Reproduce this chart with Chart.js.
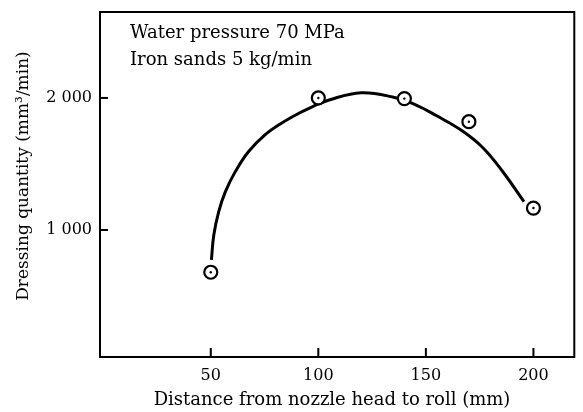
<!DOCTYPE html>
<html>
<head>
<meta charset="utf-8">
<script src="https://cdn.jsdelivr.net/npm/chart.js@4.4.0/dist/chart.umd.min.js"></script>
<style>
  html, body { margin: 0; padding: 0; background: #fff; overflow: hidden; }
  canvas { display: block; }
</style>
</head>
<body>
<canvas id="dressingChart" width="583" height="412"></canvas>
<script>
// ----------------------------------------------------------
// Datos
// ----------------------------------------------------------
const distances = [50, 100, 140, 170, 200];
const dressing = [680, 2000, 1995, 1820, 1166];

// Curva ajustada (puntos leídos a lo largo del trazo)
const curveX = [50.3, 51.4, 53.7, 56.8, 61.4, 67.5, 75.2, 82.8, 90.5, 97.4, 105, 120, 135, 145, 155, 167, 176.4, 185.6, 195.6];
const curveY = [773, 962, 1139, 1290, 1442, 1593, 1720, 1808, 1880, 1935, 1985, 2040, 2005, 1950, 1865, 1750, 1625, 1445, 1214];

const xTicks = [50, 100, 150, 200];
const yTicks = [1000, 2000];
const yTickLabels = ["1 000", "2 000"];

const noteLines = ["Water pressure 70 MPa", "Iron sands 5 kg/min"];
const xTitle = "Distance from nozzle head to roll (mm)";
const yTitle = "Dressing quantity (mm³/min)";

const FONT = "'DejaVu Serif', serif";

// ----------------------------------------------------------
// Plugin: marco, marcas hacia dentro, títulos y texto
// ----------------------------------------------------------
const framePlugin = {
    id: "frame",
    afterDraw(chart) {
        const ctx = chart.ctx;
        const area = chart.chartArea;
        const xs = chart.scales.x;
        const ys = chart.scales.y;

        ctx.save();
        ctx.strokeStyle = "#000";
        ctx.lineWidth = 2;
        ctx.strokeRect(area.left, area.top, area.right - area.left, area.bottom - area.top);

        // Marcas de los ejes (hacia dentro)
        xTicks.forEach(v => {
            const px = xs.getPixelForValue(v);
            ctx.beginPath();
            ctx.moveTo(px, area.bottom);
            ctx.lineTo(px, area.bottom - 9);
            ctx.stroke();
        });
        yTicks.forEach(v => {
            const py = ys.getPixelForValue(v);
            ctx.beginPath();
            ctx.moveTo(area.left, py);
            ctx.lineTo(area.left + 8, py);
            ctx.stroke();
        });

        ctx.fillStyle = "#000";
        ctx.textBaseline = "middle";

        // Texto de condiciones
        ctx.font = "18px " + FONT;
        ctx.textAlign = "left";
        noteLines.forEach((line, i) => {
            ctx.fillText(line, area.left + 30, area.top + 21 + i * 27);
        });

        // Título del eje X
        ctx.textAlign = "center";
        ctx.fillText(xTitle, 332, 400);

        // Título del eje Y (girado)
        ctx.save();
        ctx.translate(24, 176);
        ctx.rotate(-Math.PI / 2);
        ctx.font = "17px " + FONT;
        ctx.fillText(yTitle, 0, 0);
        ctx.restore();

        ctx.restore();
    }
};

// ----------------------------------------------------------
// Creación del gráfico
// ----------------------------------------------------------
const ctx = document.getElementById("dressingChart").getContext("2d");

new Chart(ctx, {
    type: "scatter",
    data: {
        datasets: [
            {
                label: "Measured",
                data: distances.map((d, i) => ({ x: d, y: dressing[i] })),
                showLine: false,
                pointStyle: "circle",
                pointRadius: 6.5,
                pointBorderWidth: 2.2,
                pointBorderColor: "#000",
                pointBackgroundColor: "#fff",
                order: 1
            },
            {
                label: "Dot",
                data: distances.map((d, i) => ({ x: d, y: dressing[i] })),
                showLine: false,
                pointRadius: 1.2,
                pointBorderWidth: 0,
                pointBackgroundColor: "#000",
                order: 0
            },
            {
                label: "Curve",
                data: curveX.map((x, i) => ({ x: x, y: curveY[i] })),
                showLine: true,
                borderColor: "#000",
                borderWidth: 3,
                tension: 0.4,
                pointRadius: 0,
                fill: false,
                order: 2
            }
        ]
    },
    options: {
        responsive: false,
        animation: false,
        layout: { padding: { top: 12, right: 3, left: 0, bottom: 0 } },
        plugins: {
            legend: { display: false },
            tooltip: { enabled: false }
        },
        scales: {
            x: {
                type: "linear",
                min: -1.5,
                max: 219,
                afterFit(scale) {
                    scale.height = 55;
                    scale.paddingLeft = 0;
                    scale.paddingRight = 0;
                },
                afterBuildTicks(scale) { scale.ticks = xTicks.map(v => ({ value: v })); },
                grid: { display: false, drawTicks: false },
                border: { display: false },
                ticks: {
                    color: "#000",
                    padding: 9,
                    font: { family: FONT, size: 16 }
                }
            },
            y: {
                type: "linear",
                min: 38,
                max: 2651,
                afterFit(scale) {
                    scale.width = 100;
                    scale.paddingTop = 0;
                    scale.paddingBottom = 0;
                },
                afterBuildTicks(scale) { scale.ticks = yTicks.map(v => ({ value: v })); },
                grid: { display: false, drawTicks: false },
                border: { display: false },
                ticks: {
                    color: "#000",
                    padding: 8,
                    font: { family: FONT, size: 16 },
                    callback: (value) => yTickLabels[yTicks.indexOf(value)]
                }
            }
        }
    },
    plugins: [framePlugin]
});
</script>
</body>
</html>
